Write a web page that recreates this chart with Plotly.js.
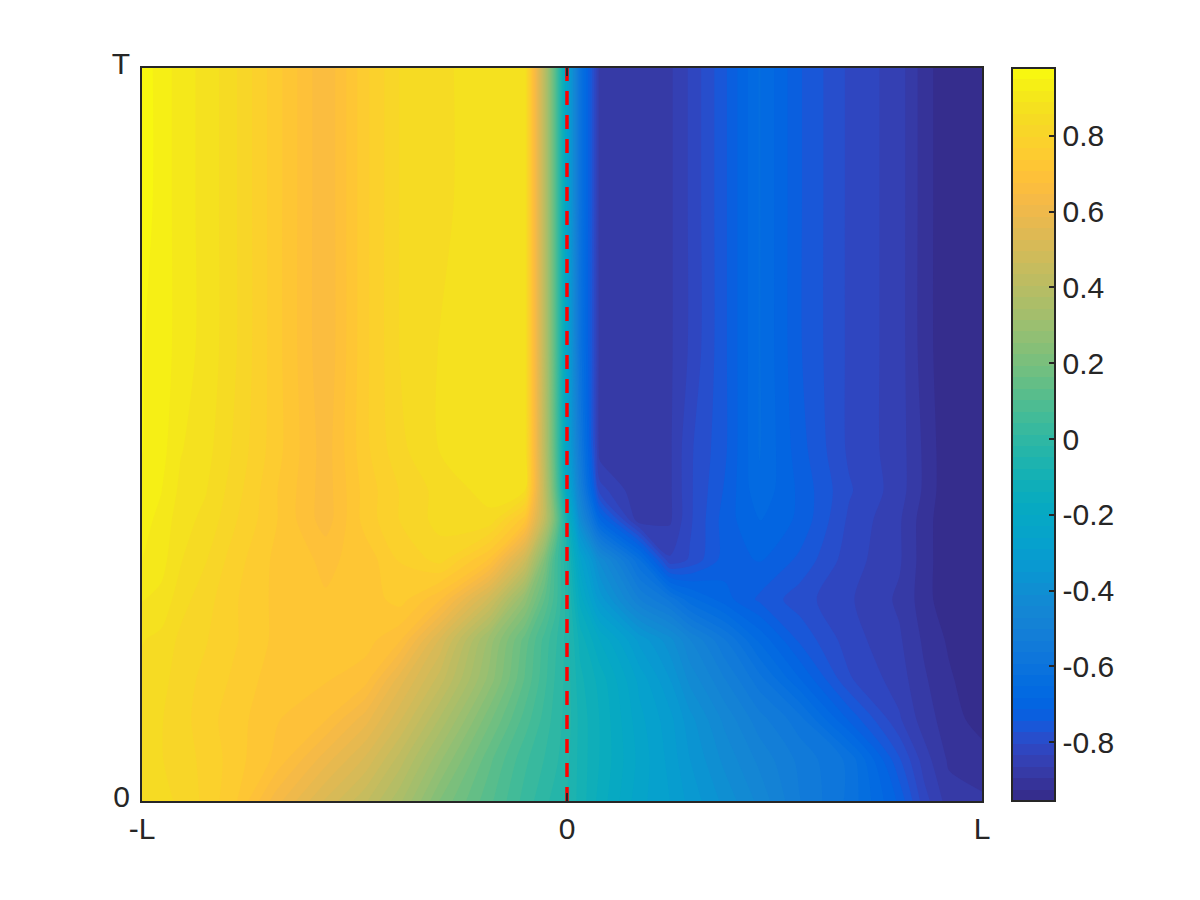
<!DOCTYPE html>
<html>
<head>
<meta charset="utf-8">
<script src="https://cdn.plot.ly/plotly-2.35.2.min.js"></script>
<style>
body { margin: 0; background: #fff; }
</style>
</head>
<body>
<div id="graphArea" style="width:1200px;height:900px;"></div>
<script>
// position along the rod, -L is -1 (0 sits a bit right of the middle in the original)
var xValues = [-1, -0.955, -0.908, -0.85, -0.779, -0.685, -0.568, -0.474, -0.392, -0.298, -0.181, -0.099, -0.052, -0.028,
    0, 0.031, 0.077, 0.171, 0.242, 0.289, 0.371, 0.453, 0.547, 0.664, 0.782, 0.84, 0.899, 0.9765];

// time, 0 to T
var tValues = [0, 0.057, 0.112, 0.166, 0.22, 0.275, 0.329, 0.384, 0.424, 0.479, 0.615, 0.819, 1];

// one row per time
var zValues = [
    [0.84, 0.84, 0.82, 0.79, 0.74, 0.63, 0.52, 0.44, 0.35, 0.22, 0.11, 0.03, -0.01, -0.03, -0.05, -0.09, -0.15, -0.25, -0.29, -0.33, -0.39, -0.45, -0.53, -0.6, -0.72, -0.82, -0.88, -0.89],
    [0.84, 0.83, 0.81, 0.79, 0.75, 0.7, 0.6, 0.52, 0.42, 0.29, 0.14, 0.05, 0.01, -0.01, -0.04, -0.09, -0.14, -0.24, -0.3, -0.35, -0.42, -0.48, -0.54, -0.6, -0.77, -0.85, -0.9, -0.91],
    [0.84, 0.83, 0.81, 0.78, 0.75, 0.71, 0.68, 0.6, 0.5, 0.37, 0.2, 0.09, 0.03, 0, -0.03, -0.09, -0.14, -0.25, -0.31, -0.37, -0.45, -0.52, -0.58, -0.72, -0.83, -0.88, -0.91, -0.94],
    [0.85, 0.84, 0.81, 0.79, 0.76, 0.72, 0.71, 0.69, 0.57, 0.45, 0.27, 0.13, 0.05, 0.01, -0.03, -0.1, -0.15, -0.27, -0.35, -0.42, -0.5, -0.58, -0.68, -0.8, -0.85, -0.89, -0.92, -0.95],
    [0.86, 0.85, 0.82, 0.8, 0.77, 0.73, 0.72, 0.72, 0.68, 0.52, 0.3, 0.15, 0.06, 0.02, -0.03, -0.12, -0.2, -0.33, -0.4, -0.47, -0.56, -0.66, -0.75, -0.82, -0.86, -0.9, -0.93, -0.95],
    [0.89, 0.88, 0.84, 0.81, 0.77, 0.73, 0.71, 0.72, 0.75, 0.68, 0.48, 0.27, 0.13, 0.06, -0.03, -0.18, -0.33, -0.5, -0.57, -0.64, -0.7, -0.75, -0.79, -0.83, -0.87, -0.91, -0.95, -0.95],
    [0.92, 0.9, 0.86, 0.83, 0.78, 0.73, 0.7, 0.72, 0.77, 0.81, 0.7, 0.48, 0.22, 0.07, -0.05, -0.25, -0.42, -0.62, -0.83, -0.8, -0.73, -0.71, -0.75, -0.82, -0.86, -0.91, -0.95, -0.95],
    [0.93, 0.91, 0.87, 0.85, 0.8, 0.74, 0.66, 0.75, 0.8, 0.84, 0.85, 0.72, 0.42, 0.2, -0.1, -0.42, -0.68, -0.89, -0.87, -0.81, -0.73, -0.68, -0.72, -0.81, -0.86, -0.91, -0.95, -0.95],
    [0.94, 0.92, 0.88, 0.86, 0.81, 0.74, 0.66, 0.75, 0.8, 0.84, 0.87, 0.86, 0.42, 0.15, -0.2, -0.5, -0.82, -0.89, -0.87, -0.81, -0.74, -0.66, -0.72, -0.8, -0.85, -0.9, -0.95, -0.95],
    [0.95, 0.93, 0.89, 0.87, 0.82, 0.75, 0.66, 0.76, 0.82, 0.86, 0.87, 0.88, 0.4, 0.12, -0.25, -0.55, -0.88, -0.89, -0.87, -0.81, -0.75, -0.65, -0.73, -0.81, -0.85, -0.9, -0.95, -0.95],
    [0.95, 0.94, 0.9, 0.88, 0.83, 0.75, 0.65, 0.76, 0.83, 0.86, 0.88, 0.88, 0.4, 0.12, -0.25, -0.6, -0.88, -0.89, -0.87, -0.83, -0.75, -0.65, -0.74, -0.81, -0.85, -0.91, -0.95, -0.95],
    [0.96, 0.94, 0.9, 0.88, 0.83, 0.75, 0.65, 0.76, 0.83, 0.85, 0.88, 0.88, 0.4, 0.12, -0.25, -0.6, -0.88, -0.89, -0.87, -0.83, -0.75, -0.65, -0.74, -0.81, -0.85, -0.91, -0.95, -0.95],
    [0.96, 0.94, 0.9, 0.88, 0.83, 0.75, 0.65, 0.76, 0.83, 0.85, 0.88, 0.88, 0.4, 0.12, -0.25, -0.6, -0.88, -0.89, -0.87, -0.83, -0.75, -0.65, -0.74, -0.81, -0.85, -0.91, -0.95, -0.95]
];

var colorTicks = [-0.8, -0.6, -0.4, -0.2, 0, 0.2, 0.4, 0.6, 0.8];
var colorTickLabels = ["-0.8", "-0.6", "-0.4", "-0.2", "0", "0.2", "0.4", "0.6", "0.8"];

var xTicks = [-1, 0, 0.9765];
var xTickLabels = ["-L", "0", "L"];
var yTicks = [0, 1];
var yTickLabels = ["0", "T"];

// the old matlab parula map
var parula = [
    [0.2081, 0.1663, 0.5292], [0.2116, 0.1898, 0.5777], [0.2123, 0.2138, 0.627], [0.2081, 0.2386, 0.6771],
    [0.1959, 0.2645, 0.7279], [0.1707, 0.2919, 0.7792], [0.1253, 0.3242, 0.8303], [0.0591, 0.3598, 0.8683],
    [0.0117, 0.3875, 0.882], [0.006, 0.4086, 0.8828], [0.0165, 0.4266, 0.8786], [0.0329, 0.443, 0.872],
    [0.0498, 0.4586, 0.8641], [0.0629, 0.4737, 0.8554], [0.0723, 0.4887, 0.8467], [0.0779, 0.504, 0.8384],
    [0.0793, 0.52, 0.8312], [0.0749, 0.5375, 0.8263], [0.0641, 0.557, 0.824], [0.0488, 0.5772, 0.8228],
    [0.0343, 0.5966, 0.8199], [0.0265, 0.6137, 0.8135], [0.0239, 0.6287, 0.8038], [0.0231, 0.6418, 0.7913],
    [0.0228, 0.6535, 0.7768], [0.0267, 0.6642, 0.7607], [0.0384, 0.6743, 0.7436], [0.059, 0.6838, 0.7254],
    [0.0843, 0.6928, 0.7062], [0.1133, 0.7015, 0.6859], [0.1453, 0.7098, 0.6646], [0.1801, 0.7177, 0.6424],
    [0.2178, 0.725, 0.6193], [0.2586, 0.7317, 0.5954], [0.3022, 0.7376, 0.5712], [0.3482, 0.7424, 0.5473],
    [0.3953, 0.7459, 0.5244], [0.442, 0.7481, 0.5033], [0.4871, 0.7491, 0.484], [0.53, 0.7491, 0.4661],
    [0.5709, 0.7485, 0.4494], [0.6099, 0.7473, 0.4337], [0.6473, 0.7456, 0.4188], [0.6834, 0.7435, 0.4044],
    [0.7184, 0.7411, 0.3905], [0.7525, 0.7384, 0.3768], [0.7858, 0.7356, 0.3633], [0.8185, 0.7327, 0.3498],
    [0.8507, 0.7299, 0.336], [0.8824, 0.7274, 0.3217], [0.9139, 0.7258, 0.3063], [0.945, 0.7261, 0.2886],
    [0.9739, 0.7314, 0.2666], [0.9938, 0.7455, 0.2403], [0.999, 0.7653, 0.2164], [0.9955, 0.7861, 0.1967],
    [0.988, 0.8066, 0.1794], [0.9789, 0.8271, 0.1633], [0.9697, 0.8481, 0.1475], [0.9626, 0.8705, 0.1309],
    [0.9589, 0.8949, 0.1132], [0.9598, 0.9218, 0.0948], [0.9661, 0.9514, 0.0755], [0.9763, 0.9831, 0.0538]
];

let parulaScale = parula.map(function(c, i) {
    return [i / (parula.length - 1), "rgb(" + Math.round(c[0] * 255) + "," + Math.round(c[1] * 255) + "," + Math.round(c[2] * 255) + ")"];
});

var zLow = -0.955;
var zHigh = 0.979;
var darkInk = "#262626";
var labelFont = {family: "Liberation Sans, Arial, sans-serif", size: 30, color: darkInk};

var field = {
    type: "contour",
    x: xValues,
    y: tValues,
    z: zValues,
    zmin: zLow,
    zmax: zHigh,
    colorscale: parulaScale,
    autocontour: false,
    contours: {coloring: "fill", start: zLow, end: zHigh, size: (zHigh - zLow) / 64, showlines: false},
    line: {width: 0, smoothing: 0.8},
    hoverinfo: "skip",
    colorbar: {
        thickness: 43,
        thicknessmode: "pixels",
        len: 1,
        lenmode: "fraction",
        x: 1.0357,
        xanchor: "left",
        y: 0.5,
        yanchor: "middle",
        xpad: 0,
        ypad: 0,
        outlinecolor: darkInk,
        outlinewidth: 2,
        ticks: "inside",
        ticklen: 7,
        tickwidth: 2,
        tickcolor: darkInk,
        tickmode: "array",
        tickvals: colorTicks,
        ticktext: colorTickLabels,
        tickfont: labelFont
    }
};

var centerLine = {
    type: "scatter",
    mode: "lines",
    x: [0, 0],
    y: [0, 1],
    line: {color: "#ff0000", width: 3.5, dash: "14px,10px"},
    hoverinfo: "skip",
    showlegend: false
};

var layout = {
    width: 1200,
    height: 900,
    margin: {l: 142, r: 218, t: 68, b: 99, pad: 0},
    paper_bgcolor: "#ffffff",
    plot_bgcolor: "#ffffff",
    showlegend: false,
    xaxis: {
        range: [-1, 0.9765],
        tickmode: "array",
        tickvals: xTicks,
        ticktext: xTickLabels,
        ticks: "inside",
        ticklen: 8,
        tickwidth: 2,
        tickcolor: darkInk,
        tickfont: labelFont,
        showgrid: false,
        zeroline: false,
        showline: true,
        mirror: "ticks",
        linecolor: darkInk,
        linewidth: 2
    },
    yaxis: {
        range: [0, 1],
        tickmode: "array",
        tickvals: yTicks,
        ticktext: yTickLabels,
        ticks: "inside",
        ticklen: 8,
        tickwidth: 2,
        tickcolor: darkInk,
        tickfont: labelFont,
        ticklabelshift: -5,
        ticklabelstandoff: 4,
        showgrid: false,
        zeroline: false,
        showline: true,
        mirror: "ticks",
        linecolor: darkInk,
        linewidth: 2
    }
};

Plotly.newPlot("graphArea", [field, centerLine], layout, {displayModeBar: false, staticPlot: true});
</script>
</body>
</html>
